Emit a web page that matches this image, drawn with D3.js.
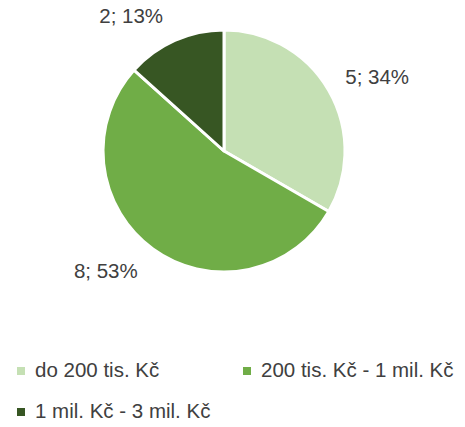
<!DOCTYPE html>
<html>
<head>
<meta charset="utf-8">
<script src="https://cdn.jsdelivr.net/npm/d3@7"></script>
<style>
    body { margin: 0; background: #fff; }
    svg text { font-family: "Liberation Sans", Arial, sans-serif; fill: #404040; }
</style>
</head>
<body>
<div id="chart"></div>
<script>
'use strict';

var categories = ['do 200 tis. Kč', '200 tis. Kč - 1 mil. Kč', '1 mil. Kč - 3 mil. Kč'];
var counts = [5, 8, 2];
var percentLabels = ['34%', '53%', '13%'];
var colors = ['#C5E0B4', '#70AD47', '#375623'];

var settings = {
    width: 465,
    height: 427,
    cx: 224,
    cy: 151,
    radius: 121,
    labelRadius: 140,
    fontSize: 20.5
};

var data = categories.map(function(c, i){
    return {name: c, value: counts[i], pct: percentLabels[i], color: colors[i]};
});

var svg = d3.select('#chart').append('svg')
    .attr('width', settings.width)
    .attr('height', settings.height);

var pie = d3.pie()
    .sort(null)
    .value(function(d){ return d.value; });

var arc = d3.arc()
    .innerRadius(0)
    .outerRadius(settings.radius);

var arcs = pie(data);

var g = svg.append('g')
    .attr('transform', 'translate(' + settings.cx + ',' + settings.cy + ')');

g.selectAll('.slice')
    .data(arcs)
    .enter()
    .append('path')
    .attr('class', 'slice')
    .attr('d', arc)
    .attr('fill', function(d){ return d.data.color; })
    .attr('stroke', '#fff')
    .attr('stroke-width', 3)
    .attr('stroke-linejoin', 'round');

// data labels: just outside the edge, pushed sideways
var midAngle = function(d){ return (d.startAngle + d.endAngle) / 2; };

g.selectAll('.label')
    .data(arcs)
    .enter()
    .append('text')
    .attr('class', 'label')
    .attr('font-size', settings.fontSize)
    .attr('x', function(d){
        var a = midAngle(d);
        return settings.labelRadius * Math.sin(a) + (Math.sin(a) >= 0 ? 0 : -4);
    })
    .attr('y', function(d){
        var a = midAngle(d);
        return -settings.labelRadius * Math.cos(a) - 8 * Math.cos(a) + 7;
    })
    .attr('text-anchor', function(d){
        return Math.sin(midAngle(d)) >= 0 ? 'start' : 'end';
    })
    .text(function(d){ return d.data.value + '; ' + d.data.pct; });

// legend
var legendPos = [[17, 367], [243, 367], [17, 408]];

var legend = svg.selectAll('.legend')
    .data(data)
    .enter()
    .append('g')
    .attr('class', 'legend')
    .attr('transform', function(d, i){
        return 'translate(' + legendPos[i][0] + ',' + legendPos[i][1] + ')';
    });

legend.append('rect')
    .attr('width', 8)
    .attr('height', 8)
    .attr('fill', function(d){ return d.color; });

legend.append('text')
    .attr('x', 18)
    .attr('y', 10)
    .attr('font-size', settings.fontSize)
    .text(function(d){ return d.name; });
</script>
</body>
</html>
